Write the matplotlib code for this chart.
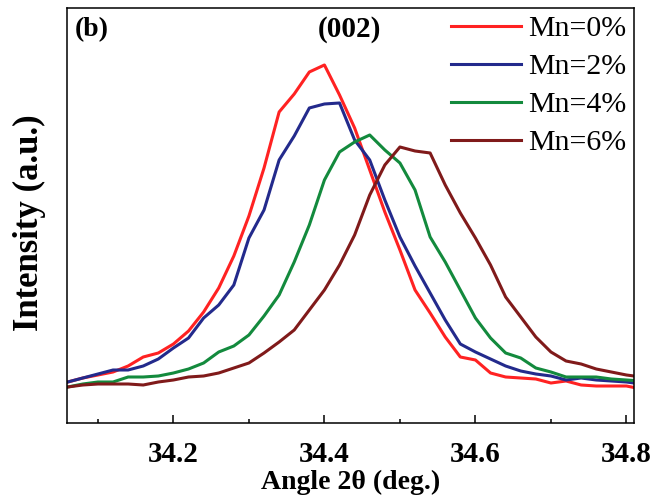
import matplotlib
matplotlib.use("Agg")
import matplotlib.pyplot as plt
from matplotlib.ticker import MultipleLocator

plt.rcParams['font.family'] = ['Liberation Serif', 'DejaVu Serif']
plt.rcParams['mathtext.fontset'] = 'stix'

# angle grid (deg), step 0.02
angle = [34.06, 34.08, 34.10, 34.12, 34.14, 34.16, 34.18, 34.20, 34.22, 34.24,
         34.26, 34.28, 34.30, 34.32, 34.34, 34.36, 34.38, 34.40, 34.42, 34.44,
         34.46, 34.48, 34.50, 34.52, 34.54, 34.56, 34.58, 34.60, 34.62, 34.64,
         34.66, 34.68, 34.70, 34.72, 34.74, 34.76, 34.78, 34.80, 34.82]

# intensities (a.u.)
mn0 = [41, 45, 48, 51, 57, 66, 70, 79, 92, 111,
       135, 167, 207, 255, 311, 329, 351, 358, 328, 295,
       253, 211, 173, 133, 110, 86, 66, 63, 50, 46,
       45, 44, 40, 42, 38, 37, 37, 37, 34]
mn2 = [41, 45, 49, 53, 53, 57, 64, 75, 85, 105,
       118, 138, 185, 213, 263, 287, 315, 319, 320, 283,
       263, 223, 186, 157, 130, 103, 79, 71, 64, 57,
       52, 49, 47, 43, 45, 43, 42, 41, 39]
mn4 = [36, 39, 41, 41, 46, 46, 47, 50, 54, 60,
       71, 77, 88, 107, 128, 161, 198, 243, 271, 281,
       288, 273, 260, 233, 186, 161, 133, 105, 85, 70,
       65, 55, 51, 46, 46, 46, 44, 43, 42]
mn6 = [36, 38, 39, 39, 39, 38, 41, 43, 46, 47,
       50, 55, 60, 70, 81, 93, 113, 133, 158, 188,
       228, 258, 276, 272, 270, 238, 210, 185, 158, 126,
       106, 86, 71, 62, 59, 54, 51, 48, 46]

labels = ['Mn=0%', 'Mn=2%', 'Mn=4%', 'Mn=6%']
colors = ['#ff2222', '#232a8c', '#138a3d', '#801a1a']

fig = plt.figure(figsize=(6.54, 4.99), dpi=100)
ax = fig.add_axes([0.1024, 0.1523, 0.867, 0.8317])

for y, lab, c in zip([mn0, mn2, mn4, mn6], labels, colors):
    ax.plot(angle, y, color=c, lw=2.2, label=lab)

ax.set_xlim(34.059, 34.81)
ax.set_ylim(0, 415)
ax.xaxis.set_major_locator(MultipleLocator(0.2))
ax.xaxis.set_minor_locator(MultipleLocator(0.1))
ax.set_yticks([])
ax.tick_params(axis='x', which='major', direction='in', length=6, width=1.1,
               pad=13, labelsize=21)
ax.tick_params(axis='x', which='minor', direction='in', length=3, width=1.1)
for lab in ax.get_xticklabels():
    lab.set_fontweight('bold')
for s in ax.spines.values():
    s.set_linewidth(1.1)

ax.set_xlabel('Angle 2θ (deg.)', fontsize=20, fontweight='bold', labelpad=1)
ax.set_ylabel('Intensity (a.u.)', fontsize=25, fontweight='bold')
ax.yaxis.set_label_coords(-0.037, 0.482)

ax.text(0.013, 0.948, '(b)', transform=ax.transAxes, fontsize=20,
        fontweight='bold', va='center', ha='left')
ax.text(34.5 - (400 - 350) / 755, 0.948, '(002)', transform=ax.get_xaxis_transform(),
        fontsize=21, fontweight='bold', va='center', ha='center')

ax.legend(loc='upper right', frameon=False, fontsize=21.5, handlelength=2.35,
          handletextpad=0.25, labelspacing=0.37, borderaxespad=0.1,
          borderpad=0.15)

fig.savefig('out.png', dpi=100)
